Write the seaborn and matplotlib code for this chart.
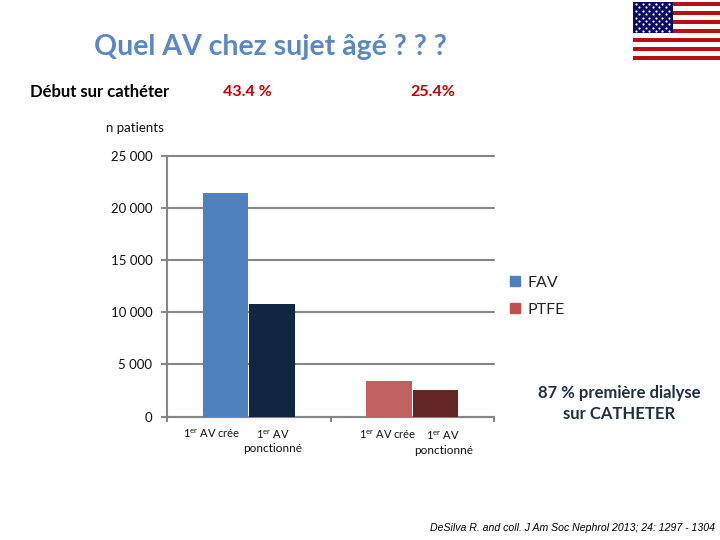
import numpy as np
import pandas as pd
import seaborn as sns
import matplotlib.pyplot as plt
from matplotlib.colors import ListedColormap
from matplotlib.lines import Line2D

# values
groups = ['FAV', 'FAV', 'PTFE', 'PTFE']
av_type = ['cree', 'ponctionne', 'cree', 'ponctionne']
n_patients = [21450, 10800, 3400, 2550]
bar_colors = ['#4f81bd', '#10253f', '#c0605f', '#632523']
y_ticks = [0, 5000, 10000, 15000, 20000, 25000]
y_labels = ['0', '5 000', '10 000', '15 000', '20 000', '25 000']

sns.set_theme(style='white')
plt.rcParams['font.family'] = ['Lato', 'DejaVu Sans']
plt.rcParams['mathtext.default'] = 'regular'

df = pd.DataFrame({'group': groups, 'type': av_type, 'n': n_patients})

fig = plt.figure(figsize=(7.2, 5.4), dpi=100)
ax = fig.add_axes([167 / 720, 1 - 416.5 / 540, 327 / 720, 260.5 / 540])

sns.barplot(data=df, x='group', y='n', hue='type', width=0.57, gap=0.02,
            dodge=True, legend=False, ax=ax, saturation=1, linewidth=0)

# each bar has its own colour
bars = [p for p in ax.patches if p.get_height() > 0]
bars.sort(key=lambda p: p.get_x())
for p, c in zip(bars, bar_colors):
    p.set_facecolor(c)
    p.set_zorder(3)

ax.set_xlim(-0.5, 1.5)
ax.set_ylim(0, 25000)
ax.set_xlabel('')
ax.set_ylabel('')
ax.set_yticks(y_ticks)
ax.set_yticklabels(y_labels, fontsize=9.5, color='#111111')
ax.set_xticks([-0.5, 0.5, 1.5])
ax.set_xticklabels([])
ax.grid(axis='y', color='#868686', lw=1.5, clip_on=False)
ax.set_axisbelow(True)
ax.tick_params(axis='y', length=4.5, width=1.5, color='#868686', left=True, pad=6)
ax.tick_params(axis='x', length=3.5, width=1.5, color='#868686', bottom=True)
for side in ['top', 'right']:
    ax.spines[side].set_visible(False)
for side in ['left', 'bottom']:
    ax.spines[side].set_color('#868686')
    ax.spines[side].set_linewidth(1.5)

# texts placed in pixels of the 720x540 slide
def put(x, y, s, **kw):
    kw.setdefault('ha', 'center')
    kw.setdefault('va', 'center')
    fig.text(x / 720, 1 - y / 540, s, **kw)

put(270, 47, 'Quel AV chez sujet âgé ? ? ?', fontsize=20.5, fontweight='bold', color='#5b88c0')
put(100, 92, 'Début sur cathéter', fontsize=12, fontweight='bold', color='black')
put(247, 92, '43.4 %', fontsize=11.5, fontweight='bold', color='#c00000')
put(433, 92, '25.4%', fontsize=11.5, fontweight='bold', color='#c00000')
put(134.5, 128, 'n patients', fontsize=9.5, color='#111111')

er = '1$^{er}$ AV'
put(212, 434, er + ' crée', fontsize=8, color='#111111')
put(273, 435, er, fontsize=8, color='#111111')
put(273, 449, 'ponctionné', fontsize=8.5, color='#111111')
put(388, 435, er + ' crée', fontsize=8, color='#111111')
put(443, 436, er, fontsize=8, color='#111111')
put(444, 450, 'ponctionné', fontsize=8.5, color='#111111')

put(619, 393, '87 % première dialyse', fontsize=12, fontweight='bold', color='#1f2f3f')
put(619, 414, 'sur CATHETER', fontsize=12, fontweight='bold', color='#1f2f3f')
put(572.5, 528, 'DeSilva R. and coll. J Am Soc Nephrol 2013; 24: 1297 - 1304',
    fontsize=7.6, style='italic', color='black', family='Liberation Sans')

# legend
handles = [Line2D([], [], marker='s', ls='', ms=7, color='#4f81bd', label='FAV'),
           Line2D([], [], marker='s', ls='', ms=7, color='#c0504d', label='PTFE')]
fig.legend(handles=handles, loc='center left', frameon=False, fontsize=11.5,
           bbox_to_anchor=(508 / 720, 1 - 296 / 540), labelspacing=0.8,
           handlelength=0.9, handletextpad=0.35, borderpad=0, borderaxespad=0,
           labelcolor='#222222')

# flag
flag = fig.add_axes([632.5 / 720, 1 - 60 / 540, 87 / 720, 58 / 540])
stripes = np.array([[i % 2] for i in range(13)])
flag.pcolormesh(np.arange(2), np.arange(14), stripes, cmap=ListedColormap(['#b80f16', 'white']))
flag.fill_between([0, 0.46], 6, 13, color='#0a0a60', lw=0)
for j in range(9):
    n_stars = 6 if j % 2 == 0 else 5
    offset = 0.04 if j % 2 == 0 else 0.078
    star_x = [offset + 0.076 * i for i in range(n_stars)]
    flag.scatter(star_x, [6.45 + 0.76 * j] * n_stars, s=2.5, color='white', lw=0)
flag.set_xlim(0, 1)
flag.set_ylim(0, 13)
flag.axis('off')

fig.savefig('out.png', dpi=100)
